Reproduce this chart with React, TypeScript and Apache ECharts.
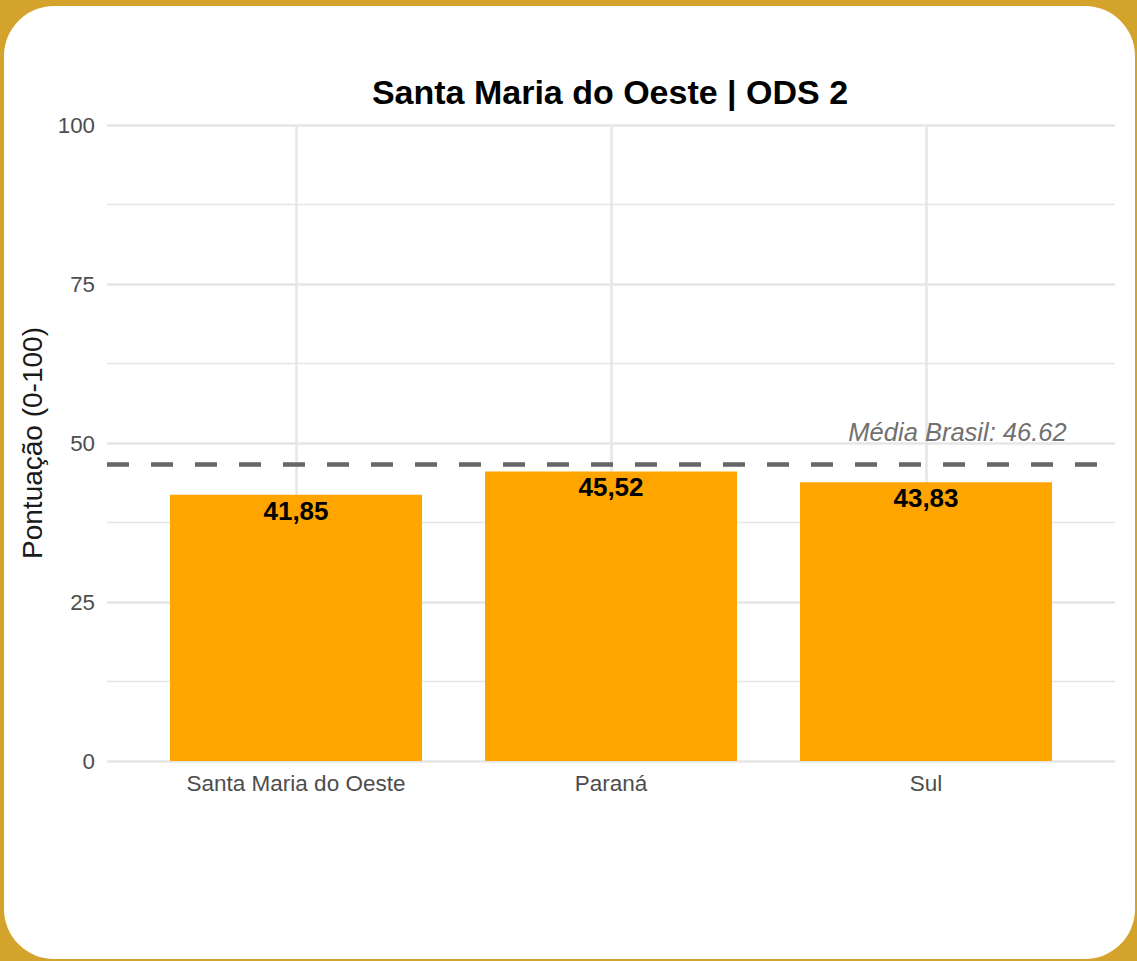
import React, { useEffect, useRef } from "react";
import * as echarts from "echarts";

const categories = ["Santa Maria do Oeste", "Paraná", "Sul"];
const scores = [41.85, 45.52, 43.83];
const brasilMean = 46.62;
const titleText = "Santa Maria do Oeste | ODS 2";
const yAxisTitle = "Pontuação (0-100)";
const yTicks = [0, 25, 50, 75, 100];

const FONT = "'Liberation Sans', Arial, sans-serif";

export default function App() {
  const ref = useRef<HTMLDivElement>(null);

  useEffect(() => {
    if (!ref.current) return;
    const chart = echarts.init(ref.current, undefined, { renderer: "svg" });
    const catIdx = categories.map((_, i) => i);
    chart.setOption({
      animation: false,
      textStyle: { fontFamily: FONT },
      title: {
        text: titleText,
        left: 605,
        top: 70,
        textAlign: "center",
        textStyle: { fontFamily: FONT, fontSize: 34, fontWeight: "bold", color: "#000" },
      },
      grid: { left: 107, right: 22, top: 125, bottom: 200, containLabel: false },
      xAxis: {
        type: "value",
        min: -0.6,
        max: 2.6,
        axisLine: { show: false },
        axisTick: { show: false },
        splitLine: { show: false },
        axisLabel: {
          customValues: catIdx,
          formatter: (v: number) => categories[Math.round(v)] ?? "",
          fontFamily: FONT,
          fontSize: 22.5,
          color: "#4d4d4d",
          margin: 11,
        },
      },
      yAxis: {
        type: "value",
        min: yTicks[0],
        max: yTicks[yTicks.length - 1],
        interval: 25,
        name: yAxisTitle,
        nameLocation: "middle",
        nameRotate: 90,
        nameGap: 60,
        nameTextStyle: { fontFamily: FONT, fontSize: 28, color: "#1a1a1a" },
        axisLine: { show: false },
        axisTick: { show: false },
        axisLabel: { fontFamily: FONT, fontSize: 22.3, color: "#4d4d4d", margin: 12 },
        splitLine: { show: true, lineStyle: { color: "#e6e6e6", width: 2.5 } },
        minorTick: { show: false, splitNumber: 2 },
        minorSplitLine: { show: true, lineStyle: { color: "#e6e6e6", width: 1.3 } },
      },
      series: [
        {
          type: "line",
          data: [],
          silent: true,
          z: 1,
          markLine: {
            z: 1,
            silent: true,
            symbol: "none",
            label: { show: false },
            lineStyle: { color: "#e6e6e6", width: 2.5, type: "solid" },
            data: catIdx.map((i) => ({ xAxis: i })),
          },
        },
        {
          type: "bar",
          z: 2,
          barWidth: 252,
          itemStyle: { color: "#FFA500" },
          data: scores.map((v, i) => [i, v]),
          label: {
            show: true,
            position: "insideTop",
            distance: 3,
            formatter: (p: any) => p.value[1].toFixed(2).replace(".", ","),
            fontFamily: FONT,
            fontSize: 26,
            fontWeight: "bold",
            color: "#000",
          },
        },
        {
          type: "line",
          data: [],
          silent: true,
          z: 6,
          markLine: {
            z: 6,
            silent: true,
            symbol: "none",
            label: { show: false },
            lineStyle: { color: "#666666", width: 4.5, type: [22, 22] },
            data: [{ yAxis: brasilMean }],
          },
          markPoint: {
            z: 6,
            silent: true,
            symbol: "circle",
            symbolSize: 0,
            label: {
              show: true,
              position: "inside",
              formatter: `Média Brasil: ${brasilMean.toFixed(2)}`,
              fontFamily: FONT,
              fontSize: 25.5,
              fontStyle: "italic",
              color: "#707070",
            },
            data: [{ coord: [2.1, 51.7] }],
          },
        },
      ],
    });
    return () => chart.dispose();
  }, []);

  return (
    <div style={{ position: "fixed", left: 0, top: 0, width: 1137, height: 961, background: "#D4A32B" }}>
      <div
        style={{
          position: "absolute",
          left: 4,
          top: 6,
          width: 1131,
          height: 953,
          background: "#ffffff",
          borderRadius: 50,
        }}
      />
      <div ref={ref} style={{ position: "absolute", left: 0, top: 0, width: 1137, height: 961 }} />
    </div>
  );
}
